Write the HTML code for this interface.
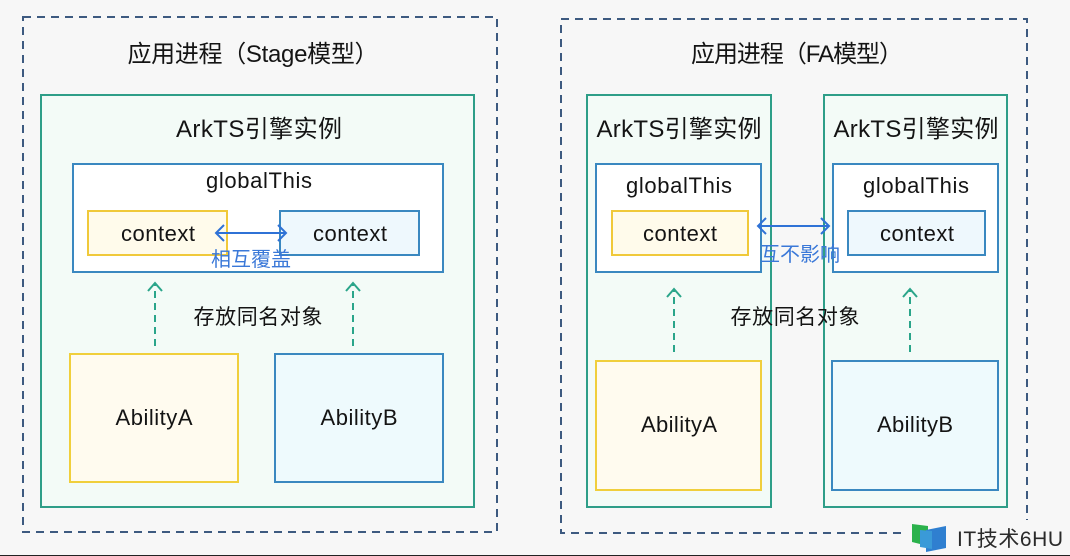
<!DOCTYPE html>
<html>
<head>
<meta charset="utf-8">
<style>
html,body{margin:0;padding:0;background:#f7f7f7;}
svg{display:block;}
text{font-family:"Liberation Sans","Noto Sans CJK SC",sans-serif;fill:#141414;}
</style>
</head>
<body>
<svg width="1070" height="556" viewBox="0 0 1070 556" xmlns="http://www.w3.org/2000/svg">
<rect x="0" y="0" width="1070" height="556" fill="#f7f7f7"/>
<line x1="0" y1="555.5" x2="1070" y2="555.5" stroke="#222" stroke-width="1"/>

<!-- LEFT: Stage model -->
<rect x="23" y="17" width="474" height="515" fill="none" stroke="#3d5a80" stroke-width="2" stroke-dasharray="8,6"/>
<text x="253" y="62" font-size="24" text-anchor="middle" textLength="251">应用进程（Stage模型）</text>

<rect x="41" y="95" width="433" height="412" fill="#f3fbf7" stroke="#2e9e88" stroke-width="2"/>
<text x="259" y="137" font-size="24" text-anchor="middle" textLength="166">ArkTS引擎实例</text>

<rect x="73" y="164" width="370" height="108" fill="#ffffff" stroke="#3a88c0" stroke-width="2"/>
<text x="259" y="188" font-size="22" text-anchor="middle" textLength="106">globalThis</text>

<rect x="88" y="211" width="139" height="44" fill="#fffbeb" stroke="#f0c93a" stroke-width="2"/>
<text x="158" y="241" font-size="22" text-anchor="middle" textLength="74">context</text>
<rect x="280" y="211" width="139" height="44" fill="#eef8fd" stroke="#3a88c0" stroke-width="2"/>
<text x="350" y="241" font-size="22" text-anchor="middle" textLength="74">context</text>

<g stroke="#2f72d6" stroke-width="2" fill="none">
<line x1="216" y1="233" x2="286" y2="233"/>
<polyline points="224,225 216,233 224,241"/>
<polyline points="278,225 286,233 278,241"/>
</g>
<text x="251" y="266" font-size="20" text-anchor="middle" textLength="80" style="fill:#3a78d8">相互覆盖</text>

<g stroke="#2aa58a" stroke-width="2" fill="none">
<line x1="155" y1="346" x2="155" y2="284" stroke-dasharray="7,5"/>
<polyline points="148,291 155,283 162,291"/>
<line x1="353" y1="346" x2="353" y2="284" stroke-dasharray="7,5"/>
<polyline points="346,291 353,283 360,291"/>
</g>
<text x="258" y="324" font-size="21" text-anchor="middle" textLength="129">存放同名对象</text>

<rect x="70" y="354" width="168" height="128" fill="#fffbef" stroke="#f0cf3c" stroke-width="2"/>
<text x="154" y="425" font-size="22" text-anchor="middle" textLength="77">AbilityA</text>
<rect x="275" y="354" width="168" height="128" fill="#eefafd" stroke="#3a88c0" stroke-width="2"/>
<text x="359" y="425" font-size="22" text-anchor="middle" textLength="77">AbilityB</text>

<!-- RIGHT: FA model -->
<rect x="561" y="19" width="466" height="514" fill="none" stroke="#3d5a80" stroke-width="2" stroke-dasharray="8,6"/>
<text x="797" y="62" font-size="24" text-anchor="middle" textLength="212">应用进程（FA模型）</text>

<rect x="587" y="95" width="184" height="412" fill="#f3fbf7" stroke="#2e9e88" stroke-width="2"/>
<rect x="824" y="95" width="183" height="412" fill="#f3fbf7" stroke="#2e9e88" stroke-width="2"/>
<text x="679" y="137" font-size="24" text-anchor="middle" textLength="165">ArkTS引擎实例</text>
<text x="916" y="137" font-size="24" text-anchor="middle" textLength="165">ArkTS引擎实例</text>

<rect x="596" y="164" width="165" height="108" fill="#ffffff" stroke="#3a88c0" stroke-width="2"/>
<rect x="833" y="164" width="165" height="108" fill="#ffffff" stroke="#3a88c0" stroke-width="2"/>
<text x="679" y="193" font-size="22" text-anchor="middle" textLength="106">globalThis</text>
<text x="916" y="193" font-size="22" text-anchor="middle" textLength="106">globalThis</text>

<rect x="612" y="211" width="136" height="44" fill="#fffbeb" stroke="#f0c93a" stroke-width="2"/>
<text x="680" y="241" font-size="22" text-anchor="middle" textLength="74">context</text>
<rect x="848" y="211" width="137" height="44" fill="#eef8fd" stroke="#3a88c0" stroke-width="2"/>
<text x="917" y="241" font-size="22" text-anchor="middle" textLength="74">context</text>

<g stroke="#2f72d6" stroke-width="2" fill="none">
<line x1="758" y1="226" x2="829" y2="226"/>
<polyline points="766,218 758,226 766,234"/>
<polyline points="821,218 829,226 821,234"/>
</g>
<text x="800" y="261" font-size="20" text-anchor="middle" textLength="80" style="fill:#3a78d8">互不影响</text>

<g stroke="#2aa58a" stroke-width="2" fill="none">
<line x1="674" y1="352" x2="674" y2="290" stroke-dasharray="7,5"/>
<polyline points="667,297 674,289 681,297"/>
<line x1="910" y1="352" x2="910" y2="290" stroke-dasharray="7,5"/>
<polyline points="903,297 910,289 917,297"/>
</g>
<text x="795" y="324" font-size="21" text-anchor="middle" textLength="129">存放同名对象</text>

<rect x="596" y="361" width="165" height="129" fill="#fffbef" stroke="#f0cf3c" stroke-width="2"/>
<text x="679" y="432" font-size="22" text-anchor="middle" textLength="76">AbilityA</text>
<rect x="832" y="361" width="166" height="129" fill="#eefafd" stroke="#3a88c0" stroke-width="2"/>
<text x="915" y="432" font-size="22" text-anchor="middle" textLength="76">AbilityB</text>

<!-- watermark -->
<rect x="906" y="520" width="164" height="35" fill="#f7f7f7"/>
<polygon points="912,524 928,526 928,546 912,542" fill="#2bb24c"/>
<polygon points="926,530 946,526 946,548 926,552" fill="#2f7fd0"/>
<polygon points="920,530 932,531 932,549 920,547" fill="#3a9ad8"/>
<text x="957" y="546" font-size="21" textLength="106" style="fill:#2a2a2a">IT技术6HU</text>
</svg>
</body>
</html>
